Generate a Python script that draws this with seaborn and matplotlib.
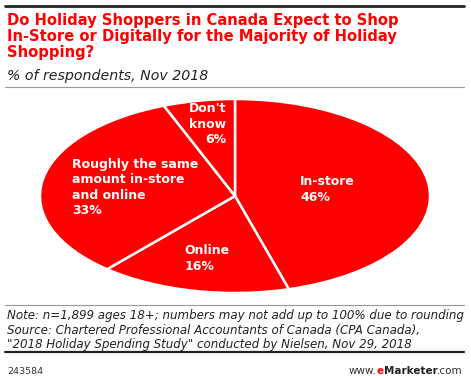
import matplotlib
matplotlib.use("Agg")
import numpy as np
import matplotlib.pyplot as plt
from matplotlib.lines import Line2D
import seaborn as sns

# %% data
categories = ["In-store", "Online", "Roughly the same\namount in-store\nand online", "Don't\nknow"]
shares = [46, 16, 33, 6]

title = ("Do Holiday Shoppers in Canada Expect to Shop\n"
         "In-Store or Digitally for the Majority of Holiday\n"
         "Shopping?")
subtitle = "% of respondents, Nov 2018"
note = ("Note: n=1,899 ages 18+; numbers may not add up to 100% due to rounding\n"
        "Source: Chartered Professional Accountants of Canada (CPA Canada),\n"
        "\"2018 Holiday Spending Study\" conducted by Nielsen, Nov 29, 2018")
chart_id = "243584"

# %% style
sns.set_theme(style="white")
plt.rcParams["font.family"] = ["DejaVu Sans"]
RED = "#ff0000"
W, H = 471, 376


def fx(x):
    return x / W


def fy(y):
    return 1 - y / H


fig = plt.figure(figsize=(W / 100, H / 100), dpi=100)

# elliptical pie: circle pie squeezed by the axes box
ax = fig.add_axes([fx(40), fy(293), 390 / W, 194 / H])
wedges, _ = ax.pie(shares, startangle=90, counterclock=False,
                   colors=[RED] * len(shares),
                   wedgeprops=dict(edgecolor="white", linewidth=1.8))
ax.set_aspect("auto")
ax.set_xlim(-1, 1)
ax.set_ylim(-1, 1)
ax.axis("off")

label_r = [0.48, 0.66, 0.52, 0.755]
label_ma = ["left", "left", "left", "right"]
for w, cat, val, r, ma in zip(wedges, categories, shares, label_r, label_ma):
    ang = np.deg2rad((w.theta1 + w.theta2) / 2)
    ax.text(r * np.cos(ang), r * np.sin(ang), f"{cat}\n{val}%",
            ha="center", va="center", multialignment=ma,
            color="white", fontsize=9, fontweight="bold", linespacing=1.25)

# %% header / footer text
fig.text(fx(7), fy(13), title, ha="left", va="top", color=RED,
         fontsize=10.6, fontweight="bold", linespacing=1.08)
fig.text(fx(7), fy(80), subtitle, ha="left", va="baseline", color="#222222",
         fontsize=10.2, style="italic")
fig.text(fx(7), fy(309), note, ha="left", va="top", color="#222222",
         fontsize=8.55, style="italic", linespacing=1.17)
fig.text(fx(7), fy(371), chart_id, ha="left", va="center", color="#333333",
         fontsize=6.8)

# rules
for y, lw, c in [(6, 2.0, "#222222"), (87, 0.8, "#999999"),
                 (305, 0.8, "#999999"), (352, 1.6, "#222222")]:
    fig.add_artist(Line2D([fx(5), fx(464)], [fy(y), fy(y)], lw=lw, color=c,
                          transform=fig.transFigure))

# eMarketer logo, built right to left
fig.canvas.draw()
renderer = fig.canvas.get_renderer()
x_right = 463
for piece, weight, col in [(".com", "normal", "#333333"), ("Marketer", "bold", "#222222"),
                           ("e", "bold", RED), ("www.", "normal", "#333333")]:
    t = fig.text(fx(x_right), fy(371), piece, ha="right", va="center",
                 fontsize=7.5, fontweight=weight, color=col)
    bb = t.get_window_extent(renderer)
    x_right -= bb.width

plt.savefig("out.png", dpi=100)
